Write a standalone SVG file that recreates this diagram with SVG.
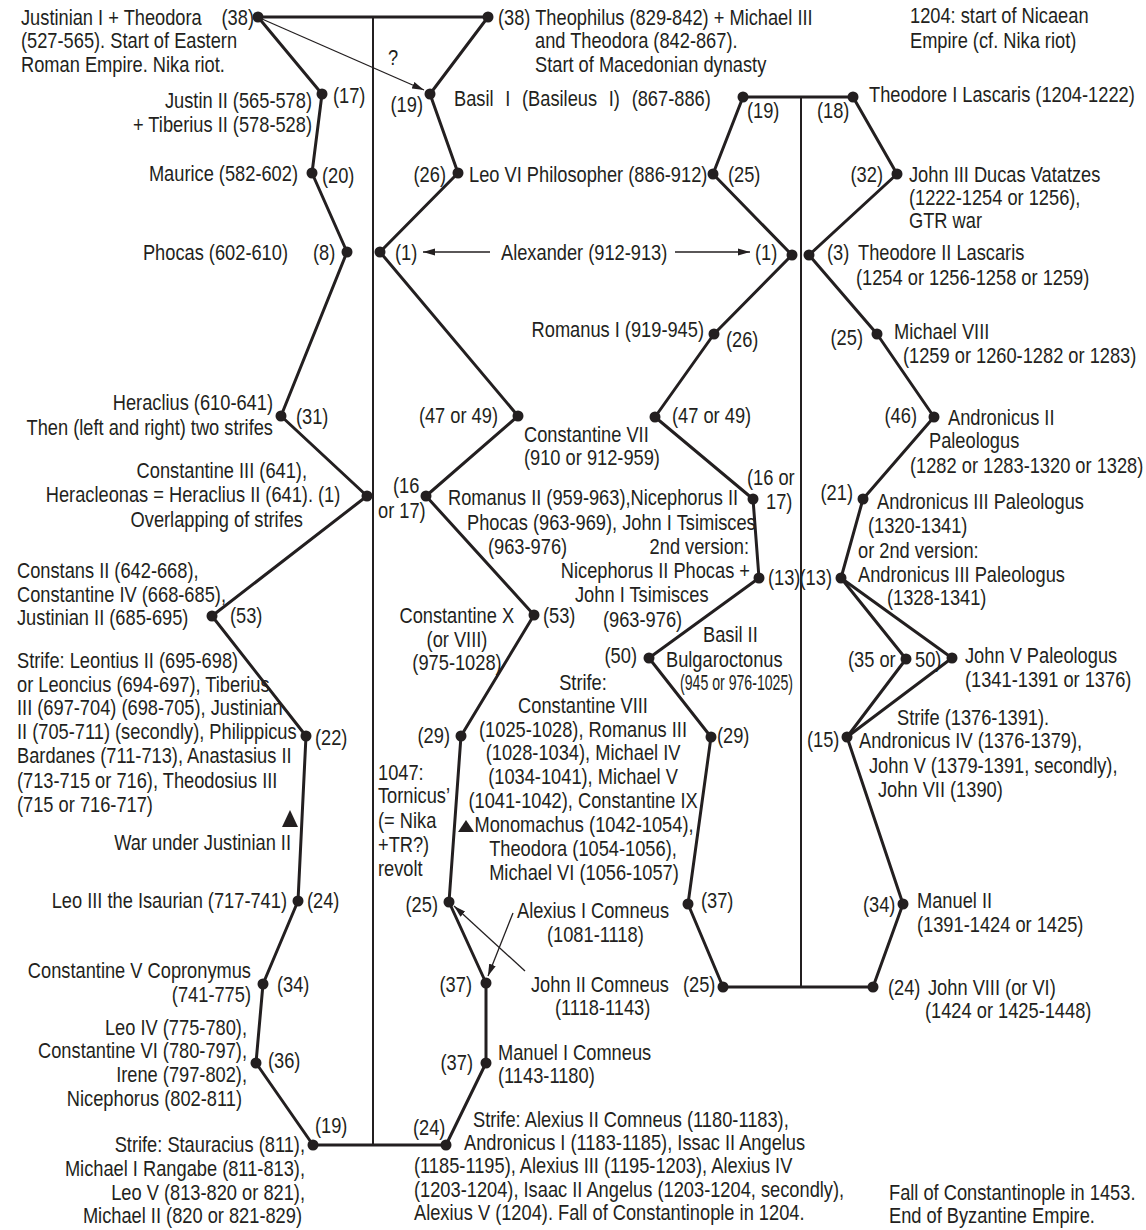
<svg xmlns="http://www.w3.org/2000/svg" width="1146" height="1230" viewBox="0 0 1146 1230">
<style>
text{font-family:"Liberation Sans",Arial,sans-serif;font-size:22px;fill:#231f20;transform-box:fill-box;transform-origin:0 0;transform:scaleX(0.83)}
.e{text-anchor:end;transform-origin:100% 0}
.m{text-anchor:middle;transform-origin:50% 0}
text.nx{transform:none}
.chain{fill:none;stroke:#231f20;stroke-width:3;stroke-linejoin:round}
.axis{fill:none;stroke:#231f20;stroke-width:2}
.thin{fill:none;stroke:#231f20;stroke-width:1.3}
circle{fill:#231f20}
.tri{fill:#231f20}
</style>
<defs>
<marker id="ah" viewBox="0 0 12 8" refX="12" refY="4" markerWidth="12" markerHeight="8" markerUnits="userSpaceOnUse" orient="auto">
<path d="M0,0.5 L12,4 L0,7.5 z" fill="#231f20"/>
</marker>
</defs>
<rect width="1146" height="1230" fill="#ffffff"/>
<g id="connectors">
<line class="axis" x1="373" y1="17" x2="373" y2="1145"/>
<line class="axis" x1="801" y1="97" x2="801" y2="987"/>
<polyline class="chain" points="258,17 322,94 312,173 347,252 281,416 367,496 212,616 306,736 298,901 263,984 256,1063 313,1145 446,1145 486,1063 486,983 449,902 461,736 534,615 426,496 518,416 380,252 458,173 430,94 488,17 258,17"/>
<polyline class="chain" points="743,97 713,174 792,255 714,334 655,417 753,499 759,578 649,658 711,737 688,904 723,987 873,987 903,904 847,737 906,659 841,578 863,499 934,417 877,334 809,255 897,174 853,97 743,97"/>
<polyline class="chain" points="841,578 952,658 847,737"/>
<line class="thin" x1="262" y1="19" x2="424" y2="90" marker-end="url(#ah)"/>
<line class="thin" x1="490" y1="252" x2="423" y2="252" marker-end="url(#ah)"/>
<line class="thin" x1="675" y1="252" x2="750" y2="252" marker-end="url(#ah)"/>
<line class="thin" x1="513" y1="913" x2="488" y2="976" marker-end="url(#ah)"/>
<line class="thin" x1="525" y1="971" x2="454" y2="906" marker-end="url(#ah)"/>
</g>
<g id="n-justinian"><circle cx="258" cy="17" r="5.5"/><text x="21" y="25">Justinian I + Theodora</text><text x="254" y="25" class="e">(38)</text><text x="21" y="48">(527-565). Start of Eastern</text><text x="21" y="72">Roman Empire. Nika riot.</text></g>
<g id="n-question"><text x="393" y="65" class="m">?</text></g>
<g id="n-justin2"><circle cx="322" cy="94" r="5.5"/><text x="312" y="108" class="e">Justin II (565-578)</text><text x="312" y="132" class="e">+ Tiberius II (578-528)</text><text x="333" y="103">(17)</text></g>
<g id="n-maurice"><circle cx="312" cy="173" r="5.5"/><text x="298" y="181" class="e">Maurice (582-602)</text><text x="322" y="183">(20)</text></g>
<g id="n-phocas"><circle cx="347" cy="252" r="5.5"/><text x="288" y="260" class="e">Phocas (602-610)</text><text x="313" y="260">(8)</text></g>
<g id="n-heraclius"><circle cx="281" cy="416" r="5.5"/><text x="273" y="410" class="e">Heraclius (610-641)</text><text x="273" y="435" class="e">Then (left and right) two strifes</text><text x="296" y="424">(31)</text></g>
<g id="n-const3"><circle cx="367" cy="496" r="5.5"/><text x="307" y="478" class="e">Constantine III (641),</text><text x="313" y="502" class="e">Heracleonas = Heraclius II (641).</text><text x="318" y="502">(1)</text><text x="303" y="527" class="e">Overlapping of strifes</text></g>
<g id="n-constans2"><circle cx="212" cy="616" r="5.5"/><text x="17" y="578">Constans II (642-668),</text><text x="17" y="602">Constantine IV (668-685),</text><text x="17" y="625">Justinian II (685-695)</text><text x="230" y="623">(53)</text></g>
<g id="n-strife1"><circle cx="306" cy="736" r="5.5"/><text x="315" y="745">(22)</text><text x="17" y="668">Strife: Leontius II (695-698)</text><text x="17" y="692">or Leoncius (694-697), Tiberius</text><text x="17" y="715">III (697-704) (698-705), Justinian</text><text x="17" y="739">II (705-711) (secondly), Philippicus</text><text x="17" y="763">Bardanes (711-713), Anastasius II</text><text x="17" y="788">(713-715 or 716), Theodosius III</text><text x="17" y="812">(715 or 716-717)</text></g>
<g id="n-war"><path class="tri" d="M290,810 L298,827 L282,827 z"/><text x="291" y="850" class="e">War under Justinian II</text></g>
<g id="n-leo3"><circle cx="298" cy="901" r="5.5"/><text x="287" y="908" class="e">Leo III the Isaurian (717-741)</text><text x="307" y="908">(24)</text></g>
<g id="n-const5"><circle cx="263" cy="984" r="5.5"/><text x="251" y="978" class="e">Constantine V Copronymus</text><text x="251" y="1002" class="e">(741-775)</text><text x="277" y="992">(34)</text></g>
<g id="n-leo4"><circle cx="256" cy="1063" r="5.5"/><text x="247" y="1035" class="e">Leo IV (775-780),</text><text x="247" y="1058" class="e">Constantine VI (780-797),</text><text x="247" y="1082" class="e">Irene (797-802),</text><text x="242" y="1106" class="e">Nicephorus (802-811)</text><text x="268" y="1068">(36)</text></g>
<g id="n-strife2"><circle cx="313" cy="1145" r="5.5"/><text x="315" y="1133">(19)</text><text x="305" y="1152" class="e">Strife: Stauracius (811),</text><text x="305" y="1176" class="e">Michael I Rangabe (811-813),</text><text x="305" y="1200" class="e">Leo V (813-820 or 821),</text><text x="302" y="1223" class="e">Michael II (820 or 821-829)</text></g>
<g id="n-theophilus"><circle cx="488" cy="17" r="5.5"/><text x="498" y="25">(38) Theophilus (829-842) + Michael III</text><text x="535" y="48">and Theodora (842-867).</text><text x="535" y="72">Start of Macedonian dynasty</text></g>
<g id="n-basil1"><circle cx="430" cy="94" r="5.5"/><text x="423" y="112" class="e">(19)</text><text x="454" y="106" word-spacing="8">Basil I (Basileus I) (867-886)</text></g>
<g id="n-leo6"><circle cx="458" cy="173" r="5.5"/><text x="446" y="182" class="e">(26)</text><text x="469" y="182">Leo VI Philosopher (886-912)</text></g>
<g id="n-alexander"><circle cx="380" cy="252" r="5.5"/><text x="395" y="260">(1)</text><text x="501" y="260">Alexander (912-913)</text></g>
<g id="n-const7a"><circle cx="518" cy="416" r="5.5"/><text x="498" y="423" class="e">(47 or 49)</text><text x="524" y="442">Constantine VII</text><text x="524" y="465">(910 or 912-959)</text></g>
<g id="n-romanus2"><circle cx="426" cy="496" r="5.5"/><text x="393" y="493">(16</text><text x="378" y="518">or 17)</text><text x="448" y="505">Romanus II (959-963),Nicephorus II</text><text x="467" y="530">Phocas (963-969), John I Tsimisces</text><text x="488" y="554">(963-976)</text></g>
<g id="n-const10"><circle cx="534" cy="615" r="5.5"/><text x="514" y="623" class="e">Constantine X</text><text x="457" y="647" class="m">(or VIII)</text><text x="457" y="670" class="m">(975-1028)</text><text x="543" y="623">(53)</text></g>
<g id="n-29a"><circle cx="461" cy="736" r="5.5"/><text x="450" y="743" class="e">(29)</text></g>
<g id="n-tornicus"><text x="378" y="780">1047:</text><text x="378" y="803">Tornicus’</text><text x="378" y="828">(= Nika</text><text x="378" y="852">+TR?)</text><text x="378" y="876">revolt</text></g>
<g id="n-strife3"><path class="tri" d="M466,820 L474,832 L458,832 z"/><text x="583" y="690" class="m">Strife:</text><text x="583" y="713" class="m">Constantine VIII</text><text x="583" y="737" class="m">(1025-1028), Romanus III</text><text x="583" y="760" class="m">(1028-1034), Michael IV</text><text x="583" y="784" class="m">(1034-1041), Michael V</text><text x="583" y="808" class="m">(1041-1042), Constantine IX</text><text x="584" y="832" class="m">Monomachus (1042-1054),</text><text x="583" y="856" class="m">Theodora (1054-1056),</text><text x="584" y="880" class="m">Michael VI (1056-1057)</text></g>
<g id="n-alexius1"><circle cx="449" cy="902" r="5.5"/><text x="438" y="912" class="e">(25)</text><text x="517" y="918">Alexius I Comneus</text><text x="547" y="942">(1081-1118)</text></g>
<g id="n-john2"><circle cx="486" cy="983" r="5.5"/><text x="472" y="992" class="e">(37)</text><text x="531" y="992">John II Comneus</text><text x="555" y="1015">(1118-1143)</text></g>
<g id="n-manuel1"><circle cx="486" cy="1063" r="5.5"/><text x="473" y="1070" class="e">(37)</text><text x="498" y="1060">Manuel I Comneus</text><text x="498" y="1083">(1143-1180)</text></g>
<g id="n-strife4"><circle cx="446" cy="1145" r="5.5"/><text x="413" y="1135">(24)</text><text x="473" y="1127">Strife: Alexius II Comneus (1180-1183),</text><text x="464" y="1150">Andronicus I (1183-1185), Issac II Angelus</text><text x="414" y="1173">(1185-1195), Alexius III (1195-1203), Alexius IV</text><text x="414" y="1197">(1203-1204), Isaac II Angelus (1203-1204, secondly),</text><text x="414" y="1220">Alexius V (1204). Fall of Constantinople in 1204.</text></g>
<g id="n-basil1r"><circle cx="743" cy="97" r="5.5"/><text x="747" y="118">(19)</text></g>
<g id="n-leo6r"><circle cx="713" cy="174" r="5.5"/><text x="728" y="182">(25)</text></g>
<g id="n-alexanderr"><circle cx="792" cy="255" r="5.5"/><text x="755" y="260">(1)</text></g>
<g id="n-romanus1"><circle cx="714" cy="334" r="5.5"/><text x="704" y="337" class="e">Romanus I (919-945)</text><text x="726" y="347">(26)</text></g>
<g id="n-const7b"><circle cx="655" cy="417" r="5.5"/><text x="672" y="423">(47 or 49)</text></g>
<g id="n-1617r"><circle cx="753" cy="499" r="5.5"/><text x="747" y="485">(16 or</text><text x="766" y="509">17)</text></g>
<g id="n-13a"><circle cx="759" cy="578" r="5.5"/><text x="768" y="585">(13)</text><text x="749" y="554" class="e">2nd version:</text><text x="750" y="578" class="e">Nicephorus II Phocas +</text><text x="575" y="602">John I Tsimisces</text><text x="603" y="627">(963-976)</text></g>
<g id="n-basil2"><circle cx="649" cy="658" r="5.5"/><text x="637" y="663" class="e">(50)</text><text x="703" y="642">Basil II</text><text x="666" y="667">Bulgaroctonus</text><text x="680" y="690" class="nx" textLength="113" lengthAdjust="spacingAndGlyphs">(945 or 976-1025)</text></g>
<g id="n-29b"><circle cx="711" cy="737" r="5.5"/><text x="717" y="743">(29)</text></g>
<g id="n-37r"><circle cx="688" cy="904" r="5.5"/><text x="701" y="908">(37)</text></g>
<g id="n-25r"><circle cx="723" cy="987" r="5.5"/><text x="683" y="992">(25)</text></g>
<g id="n-nicaea"><text x="910" y="23">1204: start of Nicaean</text><text x="910" y="48">Empire (cf. Nika riot)</text></g>
<g id="n-theodore1"><circle cx="853" cy="97" r="5.5"/><text x="869" y="102">Theodore I Lascaris (1204-1222)</text><text x="817" y="118">(18)</text></g>
<g id="n-john3"><circle cx="897" cy="174" r="5.5"/><text x="883" y="182" class="e">(32)</text><text x="909" y="182">John III Ducas Vatatzes</text><text x="909" y="205">(1222-1254 or 1256),</text><text x="909" y="228">GTR war</text></g>
<g id="n-theodore2"><circle cx="809" cy="255" r="5.5"/><text x="827" y="260">(3)</text><text x="858" y="260">Theodore II Lascaris</text><text x="856" y="285">(1254 or 1256-1258 or 1259)</text></g>
<g id="n-michael8"><circle cx="877" cy="334" r="5.5"/><text x="863" y="345" class="e">(25)</text><text x="894" y="339">Michael VIII</text><text x="903" y="363">(1259 or 1260-1282 or 1283)</text></g>
<g id="n-andronicus2"><circle cx="934" cy="417" r="5.5"/><text x="917" y="423" class="e">(46)</text><text x="948" y="425">Andronicus II</text><text x="929" y="448">Paleologus</text><text x="910" y="473">(1282 or 1283-1320 or 1328)</text></g>
<g id="n-andronicus3"><circle cx="863" cy="499" r="5.5"/><text x="853" y="500" class="e">(21)</text><text x="877" y="509">Andronicus III Paleologus</text><text x="868" y="533">(1320-1341)</text></g>
<g id="n-13b"><circle cx="841" cy="578" r="5.5"/><text x="832" y="585" class="e">(13)</text><text x="858" y="558">or 2nd version:</text><text x="858" y="582">Andronicus III Paleologus</text><text x="887" y="605">(1328-1341)</text></g>
<g id="n-3550"><circle cx="906" cy="659" r="5.5"/><text x="848" y="667">(35 or</text><text x="915" y="667">50)</text></g>
<g id="n-john5"><circle cx="952" cy="658" r="5.5"/><text x="965" y="663">John V Paleologus</text><text x="965" y="687">(1341-1391 or 1376)</text></g>
<g id="n-strife5"><circle cx="847" cy="737" r="5.5"/><text x="807" y="747">(15)</text><text x="897" y="725">Strife (1376-1391).</text><text x="859" y="748">Andronicus IV (1376-1379),</text><text x="869" y="773">John V (1379-1391, secondly),</text><text x="878" y="797">John VII (1390)</text></g>
<g id="n-manuel2"><circle cx="903" cy="904" r="5.5"/><text x="863" y="912">(34)</text><text x="917" y="908">Manuel II</text><text x="917" y="932">(1391-1424 or 1425)</text></g>
<g id="n-john8"><circle cx="873" cy="987" r="5.5"/><text x="888" y="995">(24)</text><text x="928" y="995">John VIII (or VI)</text><text x="925" y="1018">(1424 or 1425-1448)</text></g>
<g id="n-fall"><text x="889" y="1200">Fall of Constantinople in 1453.</text><text x="889" y="1223">End of Byzantine Empire.</text></g>
</svg>
